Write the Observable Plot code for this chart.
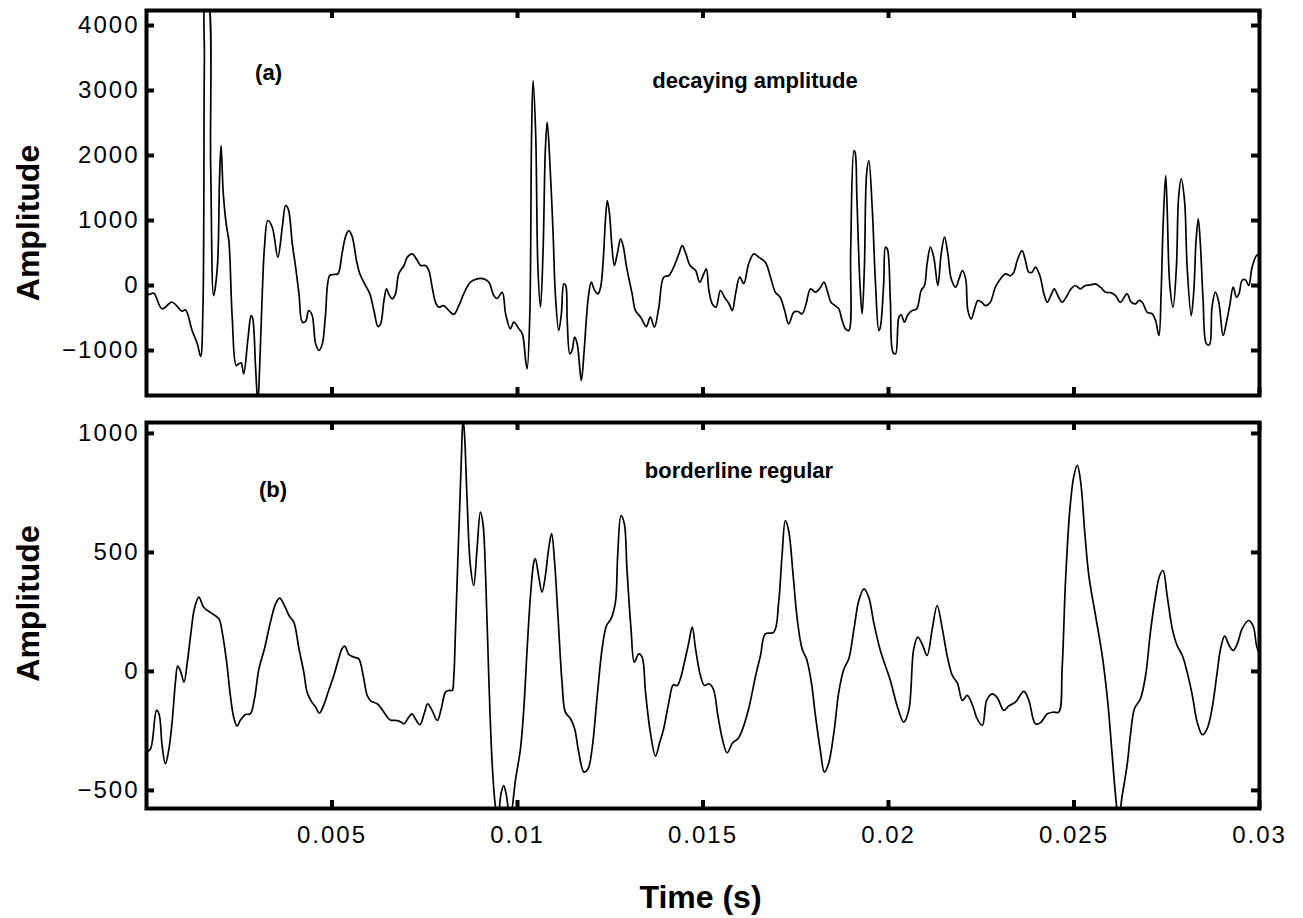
<!DOCTYPE html>
<html>
<head>
<meta charset="utf-8">
<script src="https://cdn.jsdelivr.net/npm/d3@7"></script>
<script src="https://cdn.jsdelivr.net/npm/@observablehq/plot@0.6"></script>
<style>
  html, body { margin: 0; padding: 0; background: #fff; }
  #chart { width: 1303px; height: 918px; overflow: hidden; }
  #chart svg { display: block; }
  g[aria-label="y-axis tick label"] text,
  g[aria-label="x-axis tick label"] text { letter-spacing: 2px; }
  g[aria-label="annotation"] text { letter-spacing: 1px; }
</style>
</head>
<body>
<div id="chart"></div>
<script>
// ---------- data (time in milliseconds, amplitude in arbitrary units) ----------
const timeA = [
  0.00,0.11,0.20,0.42,0.69,0.96,1.05,1.23,1.37,1.46,
  1.52,1.56,1.59,1.65,1.73,1.81,1.91,1.97,2.01,2.07,
  2.16,2.22,2.31,2.42,2.49,2.55,2.62,2.73,2.82,2.86,
  2.94,3.00,3.05,3.12,3.18,3.27,3.39,3.54,3.66,3.75,
  3.82,3.93,4.02,4.11,4.20,4.29,4.37,4.46,4.56,4.65,
  4.74,4.82,4.94,5.05,5.16,5.27,5.36,5.45,5.54,5.66,
  5.75,5.88,6.02,6.13,6.24,6.31,6.40,6.47,6.53,6.62,
  6.71,6.80,6.94,7.03,7.16,7.30,7.39,7.52,7.61,7.70,
  7.79,7.88,8.01,8.15,8.28,8.42,8.55,8.73,8.91,9.09,
  9.23,9.36,9.45,9.59,9.68,9.81,9.90,10.04,10.13,10.22,
  10.26,10.33,10.38,10.42,10.49,10.55,10.62,10.69,10.75,10.80,
  10.87,10.96,11.02,11.11,11.18,11.25,11.30,11.34,11.41,11.47,
  11.54,11.61,11.72,11.79,11.86,11.92,11.99,12.08,12.17,12.24,
  12.31,12.37,12.42,12.48,12.54,12.61,12.69,12.78,12.85,12.94,
  13.09,13.18,13.32,13.47,13.58,13.69,13.81,13.94,14.08,14.21,
  14.35,14.44,14.54,14.65,14.80,14.91,15.02,15.09,15.16,15.25,
  15.35,15.47,15.58,15.70,15.79,15.88,15.99,16.10,16.23,16.37,
  16.50,16.68,16.82,16.95,17.08,17.20,17.31,17.45,17.56,17.67,
  17.77,17.90,18.03,18.17,18.26,18.35,18.45,18.56,18.66,18.75,
  18.84,18.93,18.98,19.07,19.10,19.15,19.23,19.29,19.35,19.41,
  19.47,19.56,19.65,19.74,19.78,19.87,19.92,19.97,20.05,20.12,
  20.19,20.28,20.34,20.43,20.52,20.64,20.76,20.88,20.97,21.04,
  21.13,21.22,21.33,21.42,21.51,21.60,21.69,21.81,21.90,21.99,
  22.08,22.14,22.23,22.32,22.41,22.52,22.61,22.74,22.88,23.02,
  23.15,23.29,23.38,23.47,23.60,23.69,23.78,23.87,23.96,24.08,
  24.19,24.28,24.38,24.47,24.56,24.68,24.80,24.92,25.04,25.17,
  25.31,25.45,25.58,25.72,25.85,25.99,26.12,26.25,26.43,26.54,
  26.66,26.75,26.84,26.97,27.11,27.20,27.29,27.35,27.40,27.47,
  27.51,27.58,27.67,27.76,27.82,27.89,27.98,28.05,28.16,28.23,
  28.29,28.35,28.41,28.48,28.57,28.65,28.72,28.81,28.90,29.02,
  29.11,29.20,29.29,29.38,29.45,29.53,29.62,29.71,29.80,29.92,
  30.00
];
const ampA = [
  -150,-128,-120,-358,-257,-395,-374,-692,-897,-1092,
  -385,3462,4400,4400,1820,-154,282,1666,2154,1410,
  897,692,-487,-1231,-1205,-1190,-1359,-846,-462,-500,
  -1256,-1800,-1256,-128,590,1000,897,436,897,1231,
  1180,641,282,-128,-564,-550,-385,-450,-897,-1000,
  -897,-487,154,170,180,487,744,846,760,385,
  180,26,-128,-385,-631,-590,-231,-51,-130,-205,
  -128,180,308,436,487,385,308,308,231,-26,
  -257,-333,-310,-385,-446,-308,-128,51,103,103,
  51,-154,-200,-103,-436,-667,-564,-667,-744,-1154,
  -1282,-487,2333,3154,2333,282,-333,538,2077,2513,
  1923,795,-128,-692,-450,26,0,-538,-1051,-1000,
  -795,-900,-1462,-1051,-487,-128,51,-77,-128,-26,
  385,1000,1308,1103,640,308,490,718,600,282,
  -128,-385,-487,-631,-487,-641,-333,128,154,282,
  487,615,487,308,230,51,180,256,-77,-282,
  -333,-77,-180,-280,-385,-120,128,30,333,487,
  436,359,128,-103,-180,-385,-590,-410,-400,-436,
  -300,-51,-103,-26,51,-80,-257,-310,-359,-538,
  -667,-692,538,2077,2050,1308,26,-436,282,1718,
  1923,1205,26,-692,-641,26,590,560,-231,-1026,
  -1051,-487,-450,-564,-450,-385,-360,-77,0,333,
  590,436,0,487,744,487,103,-26,100,231,
  103,-385,-513,-360,-231,-260,-308,-260,-26,103,
  180,150,205,385,538,385,205,205,282,150,
  -128,-257,-150,-51,-150,-257,-170,-51,0,-51,
  0,10,26,-30,-103,-110,-154,-257,-128,-257,
  -282,-230,-257,-410,-436,-538,-769,-77,897,1692,
  1205,26,-333,282,1359,1641,1300,282,-462,-77,
  692,1026,600,-231,-897,-910,-333,-103,-250,-769,
  -564,-300,-26,-180,-120,77,90,0,282,462,
  480
];
const timeB = [
  0.00,0.11,0.27,0.34,0.42,0.51,0.60,0.69,0.78,0.84,
  0.92,1.01,1.10,1.20,1.29,1.41,1.54,1.73,1.95,2.04,
  2.16,2.26,2.35,2.44,2.53,2.67,2.80,2.91,3.03,3.18,
  3.34,3.48,3.59,3.71,3.84,3.97,4.11,4.24,4.33,4.46,
  4.56,4.66,4.78,4.91,5.05,5.18,5.27,5.34,5.46,5.59,
  5.72,5.84,5.95,6.05,6.22,6.35,6.49,6.58,6.71,6.85,
  6.94,7.07,7.16,7.25,7.37,7.48,7.58,7.70,7.84,7.94,
  8.06,8.15,8.24,8.28,8.33,8.39,8.45,8.49,8.53,8.57,
  8.64,8.73,8.82,8.91,9.00,9.07,9.14,9.23,9.32,9.40,
  9.47,9.56,9.63,9.70,9.80,9.95,10.08,10.17,10.26,10.35,
  10.44,10.48,10.57,10.66,10.75,10.84,10.92,11.00,11.09,11.20,
  11.29,11.43,11.54,11.65,11.79,11.90,12.01,12.15,12.28,12.40,
  12.52,12.64,12.70,12.79,12.88,12.95,13.06,13.15,13.27,13.36,
  13.45,13.58,13.72,13.83,13.94,14.08,14.20,14.30,14.39,14.50,
  14.62,14.71,14.80,14.93,15.04,15.16,15.28,15.40,15.52,15.65,
  15.80,15.94,16.05,16.23,16.42,16.55,16.68,16.91,17.04,17.13,
  17.22,17.31,17.43,17.54,17.67,17.79,17.92,18.03,18.17,18.27,
  18.38,18.53,18.66,18.80,18.93,19.07,19.20,19.34,19.47,19.60,
  19.78,20.05,20.23,20.41,20.55,20.68,20.79,20.92,21.04,21.18,
  21.31,21.45,21.58,21.72,21.86,21.99,22.12,22.26,22.39,22.53,
  22.65,22.80,22.93,23.11,23.24,23.42,23.65,23.78,23.96,24.10,
  24.28,24.45,24.59,24.68,24.77,24.89,25.00,25.09,25.18,25.29,
  25.40,25.58,25.76,25.91,26.03,26.12,26.20,26.30,26.43,26.52,
  26.63,26.79,26.93,27.06,27.20,27.31,27.40,27.51,27.65,27.78,
  27.92,28.05,28.19,28.32,28.46,28.59,28.72,28.86,28.95,29.06,
  29.18,29.29,29.41,29.53,29.71,29.83,29.92,30.00
];
const ampB = [
  -340,-325,-164,-180,-311,-388,-330,-213,-45,22,
  0,-45,39,165,263,312,270,247,221,165,
  39,-101,-192,-230,-205,-181,-178,-115,11,95,
  207,284,308,280,235,207,95,-3,-87,-130,
  -150,-175,-140,-80,-17,53,95,106,70,60,
  53,-17,-101,-125,-136,-160,-192,-205,-206,-212,
  -220,-192,-178,-200,-224,-180,-136,-165,-206,-160,
  -87,-80,-80,-31,179,459,726,908,1060,1000,
  726,445,361,516,669,620,403,-45,-395,-560,
  -620,-510,-480,-520,-620,-451,-325,-157,95,319,
  459,474,400,333,400,516,579,460,235,-45,
  -171,-199,-241,-339,-423,-410,-325,-101,95,193,
  221,291,487,655,620,431,179,39,74,60,
  -87,-255,-356,-300,-241,-129,-56,-60,-31,39,
  123,186,95,-17,-59,-52,-75,-185,-283,-342,
  -300,-283,-250,-157,-17,67,158,165,291,487,
  634,590,403,221,95,53,-45,-185,-339,-423,
  -390,-255,-87,11,53,179,298,347,310,207,
  88,-38,-143,-213,-160,95,144,110,67,179,
  277,180,67,-17,-50,-122,-101,-140,-199,-227,
  -120,-94,-110,-164,-145,-129,-84,-120,-220,-215,
  -178,-171,-171,11,375,684,824,866,796,585,
  403,235,67,-129,-353,-521,-620,-521,-395,-269,
  -157,-115,-17,165,319,403,424,319,179,109,
  67,-3,-101,-213,-266,-240,-157,-3,95,148,
  110,88,120,179,214,190,109,70
];

const xTicks = [0.005, 0.01, 0.015, 0.02, 0.025, 0.03];
const yTicksA = [-1000, 0, 1000, 2000, 3000, 4000];
const yTicksB = [-500, 0, 500, 1000];
const yLabel = "Amplitude";
const xLabel = "Time (s)";
const tagA = "(a)", titleA = "decaying amplitude";
const tagB = "(b)", titleB = "borderline regular";

// ---------- build tables ----------
const toTable = (ts, vs) => ts.slice(0, Math.min(ts.length, vs.length)).map((t, i) => ({t: t / 1000, v: vs[i]}));
const dataA = toTable(timeA, ampA);
const dataB = toTable(timeB, ampB);

const fmtY = d => d < 0 ? "\u2212" + Math.abs(d) : String(d);
const W = 1303, ML = 146, MR = 44;
const PW = W - ML - MR;
const FONT = "'Liberation Sans', Arial, Helvetica, sans-serif";
const TICK = 8;

function frameTicks(yTicks, PH) {
  return [
    Plot.ruleY(yTicks, {insetRight: PW - TICK, strokeWidth: 4}),
    Plot.ruleY(yTicks, {insetLeft: PW - TICK, strokeWidth: 4}),
    Plot.ruleX(xTicks, {insetBottom: PH - TICK, strokeWidth: 4}),
    Plot.ruleX(xTicks, {insetTop: PH - TICK, strokeWidth: 4}),
    Plot.frame({stroke: "black", strokeWidth: 4})
  ];
}

// ---------- top panel ----------
const hA = 410, mtA = 10, mbA = 15;
const plotTop = Plot.plot({
  width: W, height: hA,
  marginLeft: ML, marginRight: MR, marginTop: mtA, marginBottom: mbA,
  style: {fontFamily: FONT, background: "white", color: "black", overflow: "visible"},
  x: {domain: [0, 0.03], axis: null},
  y: {domain: [-1692, 4231]},
  marks: [
    Plot.line(dataA, {x: "t", y: "v", stroke: "black", strokeWidth: 1.7, clip: true, curve: "catmull-rom"}),
    ...frameTicks(yTicksA, hA - mtA - mbA),
    Plot.axisY(yTicksA, {anchor: "left", tickSize: 0, tickPadding: 7, fontSize: 24, tickFormat: fmtY, label: null}),
    Plot.text([yLabel], {frameAnchor: "left", rotate: -90, dx: -108, dy: 20, fontSize: 32, fontWeight: "bold", lineAnchor: "bottom", textAnchor: "middle"}),
    Plot.text([tagA], {x: 0.00329, y: 3169, fontSize: 22, fontWeight: "bold", lineAnchor: "bottom", ariaLabel: "annotation"}),
    Plot.text([titleA], {x: 0.01640, y: 3046, fontSize: 22, fontWeight: "bold", lineAnchor: "bottom", ariaLabel: "annotation"})
  ]
});

// ---------- bottom panel ----------
const hB = 508, mtB = 12, mbB = 110;
const plotBottom = Plot.plot({
  width: W, height: hB,
  marginLeft: ML, marginRight: MR, marginTop: mtB, marginBottom: mbB,
  style: {fontFamily: FONT, background: "white", color: "black", overflow: "visible"},
  x: {domain: [0, 0.03]},
  y: {domain: [-576, 1046]},
  marks: [
    Plot.line(dataB, {x: "t", y: "v", stroke: "black", strokeWidth: 1.7, clip: true, curve: "catmull-rom"}),
    ...frameTicks(yTicksB, hB - mtB - mbB),
    Plot.axisY(yTicksB, {anchor: "left", tickSize: 0, tickPadding: 7, fontSize: 24, tickFormat: fmtY, label: null}),
    Plot.axisX(xTicks, {anchor: "bottom", tickSize: 0, tickPadding: 17, fontSize: 24, tickFormat: d => String(d), label: null}),
    Plot.text([yLabel], {frameAnchor: "left", rotate: -90, dx: -108, dy: -12, fontSize: 32, fontWeight: "bold", lineAnchor: "bottom", textAnchor: "middle"}),
    Plot.text([xLabel], {frameAnchor: "bottom", dx: -2.5, dy: 99, fontSize: 32, fontWeight: "bold", lineAnchor: "bottom", textAnchor: "middle"}),
    Plot.text([tagB], {x: 0.00341, y: 735, fontSize: 22, fontWeight: "bold", lineAnchor: "bottom", ariaLabel: "annotation"}),
    Plot.text([titleB], {x: 0.01597, y: 811, fontSize: 22, fontWeight: "bold", lineAnchor: "bottom", ariaLabel: "annotation"})
  ]
});

const chart = document.getElementById("chart");
chart.appendChild(plotTop);
chart.appendChild(plotBottom);
</script>
</body>
</html>
